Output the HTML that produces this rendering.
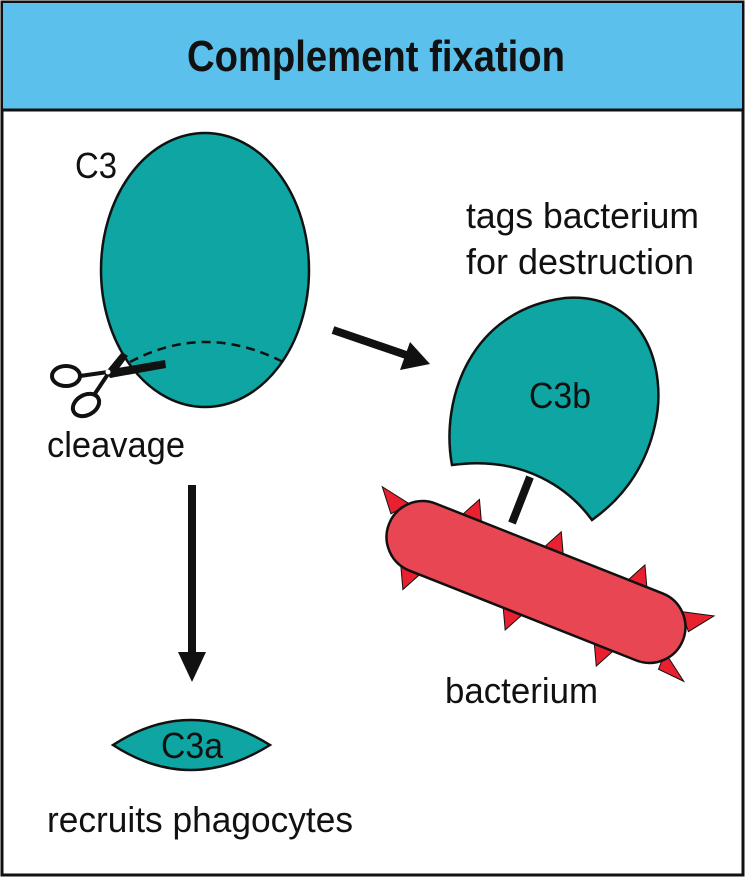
<!DOCTYPE html>
<html><head><meta charset="utf-8"><style>
html,body{margin:0;padding:0;background:#fff;width:745px;height:877px;overflow:hidden}
svg{display:block}
text{font-family:"Liberation Sans Narrow","Liberation Sans",sans-serif;fill:#111}
</style></head><body>
<svg width="745" height="877" viewBox="0 0 745 877">
<rect x="2" y="2" width="741" height="873" fill="#fff" stroke="#111" stroke-width="3"/>
<rect x="3" y="3" width="739" height="107" fill="#5bc1ec"/>
<line x1="2" y1="110" x2="743" y2="110" stroke="#111" stroke-width="3"/>
<text x="376" y="71" text-anchor="middle" font-size="44" font-weight="bold" textLength="378" lengthAdjust="spacingAndGlyphs">Complement fixation</text>

<text x="75" y="178" font-size="36" textLength="42" lengthAdjust="spacingAndGlyphs">C3</text>
<ellipse cx="205" cy="270" rx="104" ry="137" fill="#0ea5a3" stroke="#111" stroke-width="2.5"/>
<path d="M130,362 Q205,322 283,362" fill="none" stroke="#111" stroke-width="2.5" stroke-dasharray="9,6"/>
<g>
<polygon points="106,370 165,360 166,368 110,378" fill="#111"/>
<polygon points="104,374 122,352 128,356 112,378" fill="#111"/>
<path d="M108,372 L80,376" stroke="#111" stroke-width="4"/>
<path d="M108,374 L92,398" stroke="#111" stroke-width="4"/>
<ellipse cx="66" cy="376" rx="14" ry="10" fill="#fff" stroke="#111" stroke-width="4"/>
<ellipse cx="86" cy="405" rx="14" ry="10" transform="rotate(-30 86 405)" fill="#fff" stroke="#111" stroke-width="4"/>
<circle cx="108" cy="372" r="2.5" fill="#fff"/>
</g>
<text x="47" y="457" font-size="36" textLength="138" lengthAdjust="spacingAndGlyphs">cleavage</text>

<g>
<line x1="333" y1="330" x2="412" y2="357" stroke="#111" stroke-width="8"/>
<polygon points="430,364 400,370 410,342" fill="#111"/>
</g>
<g>
<line x1="192" y1="485" x2="192" y2="655" stroke="#111" stroke-width="8"/>
<polygon points="178,652 206,652 192,682" fill="#111"/>
</g>

<text x="466" y="228" font-size="36" textLength="233" lengthAdjust="spacingAndGlyphs">tags bacterium</text>
<text x="466" y="274" font-size="36" textLength="228" lengthAdjust="spacingAndGlyphs">for destruction</text>

<path d="M452,465 C440,400 470,310 565,298 C645,292 668,370 655,425 C645,470 620,500 592,520 C570,490 525,455 452,465 Z" fill="#0ea5a3" stroke="#111" stroke-width="2.5"/>
<text x="560" y="408" text-anchor="middle" font-size="36" textLength="62" lengthAdjust="spacingAndGlyphs">C3b</text>
<line x1="530" y1="477" x2="512" y2="523" stroke="#111" stroke-width="8"/>

<g transform="translate(536,582) rotate(21.6)">
<g fill="#e8202f" stroke="#111" stroke-width="1">
<polygon points="-94,-34 -72,-34 -83,-56"/>
<polygon points="-6,-34 16,-34 5,-56"/>
<polygon points="84,-34 106,-34 95,-56"/>
<polygon points="-132,34 -110,34 -121,56"/>
<polygon points="-22,34 0,34 -11,56"/>
<polygon points="76,34 98,34 87,56"/>
<polygon points="146,18 146,36 174,38"/>
<polygon points="146,-26 160,-10 178,-34"/>
<polygon points="-146,-26 -160,-10 -178,-32"/>
</g>
<rect x="-158" y="-36" width="316" height="72" rx="36" fill="#e84652" stroke="#111" stroke-width="2.5"/>
</g>
<text x="445" y="703" font-size="36" textLength="153" lengthAdjust="spacingAndGlyphs">bacterium</text>

<path d="M113,745 Q190,695 270,745 Q190,795 113,745 Z" fill="#0ea5a3" stroke="#111" stroke-width="2.5"/>
<text x="192" y="758" text-anchor="middle" font-size="36" textLength="62" lengthAdjust="spacingAndGlyphs">C3a</text>
<text x="47" y="832" font-size="36" textLength="306" lengthAdjust="spacingAndGlyphs">recruits phagocytes</text>
</svg>
</body></html>
